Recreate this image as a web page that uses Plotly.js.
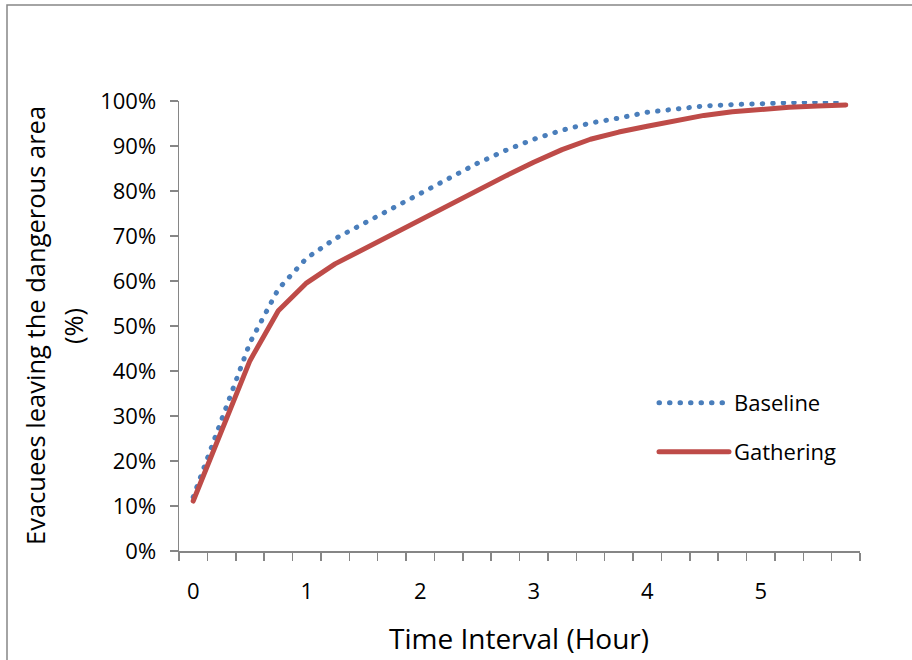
<!DOCTYPE html>
<html>
<head>
<meta charset="utf-8">
<script src="https://cdn.plot.ly/plotly-3.0.1.min.js"></script>
<style>
  html, body { margin: 0; padding: 0; background: #fff; }
  #chart { width: 912px; height: 660px; }
  .js-line { stroke-linecap: round !important; stroke-linejoin: round !important; }
</style>
</head>
<body>
<div id="chart"></div>
<script>
// Time (hours), one category every 15 minutes
const timeHours = [0, 0.25, 0.5, 0.75, 1, 1.25, 1.5, 1.75, 2, 2.25, 2.5, 2.75,
                   3, 3.25, 3.5, 3.75, 4, 4.25, 4.5, 4.75, 5, 5.25, 5.5, 5.75];
// Evacuees leaving the dangerous area (%)
const baseline = [12.0, 29.2, 46.3, 58.2, 65.1, 69.4, 72.7, 76.0, 79.5, 82.8, 86.1, 89.0,
                  91.5, 93.5, 95.1, 96.2, 97.5, 98.2, 98.9, 99.2, 99.5, 99.6, 99.7, 99.7];
const gathering = [11.1, 26.5, 42.3, 53.4, 59.6, 63.8, 67.1, 70.4, 73.6, 76.8, 80.0, 83.3,
                   86.4, 89.2, 91.5, 93.1, 94.4, 95.7, 96.8, 97.6, 98.2, 98.6, 98.9, 99.1];
const seriesNames = ['Baseline', 'Gathering'];
const xTickVals = [0, 1, 2, 3, 4, 5];
const xTickText = ['0', '1', '2', '3', '4', '5'];
const yTickVals = [0, 10, 20, 30, 40, 50, 60, 70, 80, 90, 100];
const yTickText = ['0%', '10%', '20%', '30%', '40%', '50%', '60%', '70%', '80%', '90%', '100%'];

const FONT = 'Open Sans, Lato, sans-serif';
const AX = '#868686';

const traces = [
  {
    x: timeHours, y: baseline, name: seriesNames[0], type: 'scatter', mode: 'lines',
    line: { color: '#4a7ebb', width: 5, dash: '0.5px,10px' },
    cliponaxis: false, legend: 'legend', hoverinfo: 'skip'
  },
  {
    x: timeHours, y: gathering, name: seriesNames[1], type: 'scatter', mode: 'lines',
    line: { color: '#be4b48', width: 5 },
    cliponaxis: false, legend: 'legend2', hoverinfo: 'skip'
  }
];

const W = 912, H = 660, L = 179, R = 52, T = 101, B = 109;
const pw = W - L - R, ph = H - T - B;
const px = v => (v - L) / pw;
const py = v => (H - B - v) / ph;

const layout = {
  width: W, height: H,
  margin: { l: L, r: R, t: T, b: B, pad: 0 },
  paper_bgcolor: '#fff', plot_bgcolor: '#fff',
  font: { family: FONT, color: '#000', size: 22 },
  showlegend: true,
  xaxis: {
    range: [-0.125, 5.875], tickmode: 'array', tickvals: xTickVals, ticktext: xTickText,
    ticks: '', showgrid: false, zeroline: false, showline: true, linecolor: AX, linewidth: 1.5,
    tickfont: { family: FONT, size: 22, color: '#000' }, ticklabelstandoff: 20,
    minor: { tickmode: 'linear', tick0: -0.125, dtick: 0.25, ticks: 'outside', ticklen: 8,
             tickcolor: AX, tickwidth: 1.5, showgrid: false }
  },
  yaxis: {
    range: [0, 100], tickmode: 'array', tickvals: yTickVals, ticktext: yTickText,
    ticks: 'outside', ticklen: 8, tickcolor: AX, tickwidth: 1.5,
    showgrid: false, zeroline: false, showline: true, linecolor: AX, linewidth: 1.5,
    tickfont: { family: FONT, size: 22, color: '#000' }, ticklabelstandoff: 9
  },
  legend: {
    x: px(654), y: py(403), xanchor: 'left', yanchor: 'middle',
    bgcolor: 'rgba(0,0,0,0)', borderwidth: 0, itemwidth: 70,
    font: { family: FONT, size: 22, color: '#000' }
  },
  legend2: {
    x: px(654), y: py(452), xanchor: 'left', yanchor: 'middle',
    bgcolor: 'rgba(0,0,0,0)', borderwidth: 0, itemwidth: 70,
    font: { family: FONT, size: 22, color: '#000' }
  },
  annotations: [
    { text: 'Evacuees leaving the dangerous area', xref: 'paper', yref: 'paper',
      x: px(35), y: py(326), xanchor: 'center', yanchor: 'middle', textangle: -90,
      showarrow: false, font: { family: FONT, size: 25.5, color: '#000' } },
    { text: '(%)', xref: 'paper', yref: 'paper',
      x: px(73), y: py(326), xanchor: 'center', yanchor: 'middle', textangle: -90,
      showarrow: false, font: { family: FONT, size: 25.5, color: '#000' } },
    { text: 'Time Interval (Hour)', xref: 'paper', yref: 'paper',
      x: px(519), y: py(638), xanchor: 'center', yanchor: 'middle',
      showarrow: false, font: { family: FONT, size: 28, color: '#000' } }
  ],
  shapes: [
    { type: 'rect', xref: 'paper', yref: 'paper', x0: px(7), x1: px(1000), y0: py(5), y1: py(800),
      line: { color: AX, width: 1.5 }, fillcolor: 'rgba(0,0,0,0)', layer: 'below' }
  ]
};

Plotly.newPlot('chart', traces, layout, { staticPlot: true, displayModeBar: false });
</script>
</body>
</html>
